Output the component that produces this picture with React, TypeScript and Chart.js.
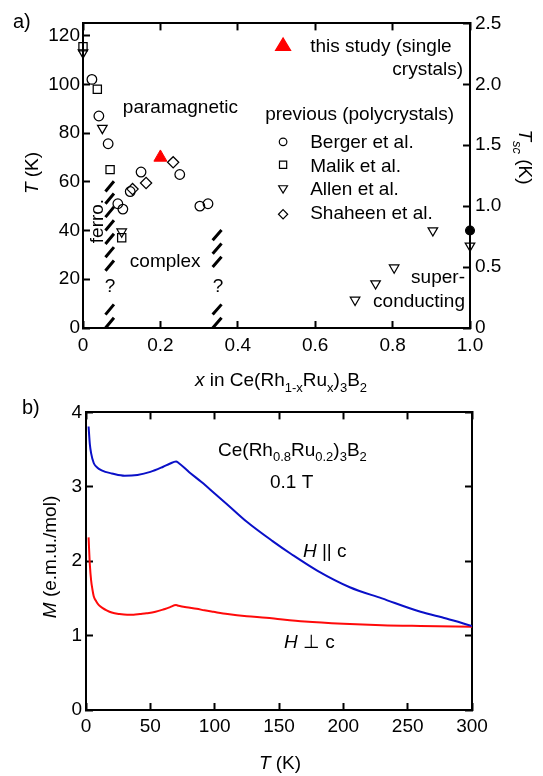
import React, { useEffect, useRef } from "react";
import { Chart, registerables } from "chart.js";

Chart.register(...registerables);

const FONT = "'Liberation Sans', Arial, Helvetica, sans-serif";
const FS = 19;

// ---------------- panel a: phase diagram ----------------
const X_TICKS_A = [0, 0.2, 0.4, 0.6, 0.8, 1.0];
const X_TICK_LABELS_A = ["0", "0.2", "0.4", "0.6", "0.8", "1.0"];
const T_TICKS_A = [0, 20, 40, 60, 80, 100, 120];
const T_TICK_LABELS_A = ["0", "20", "40", "60", "80", "100", "120"];
const TSC_TICKS_A = [0, 0.5, 1.0, 1.5, 2.0, 2.5];
const TSC_TICK_LABELS_A = ["0", "0.5", "1.0", "1.5", "2.0", "2.5"];

const BERGER_X = [0.023, 0.041, 0.065, 0.09, 0.103, 0.122, 0.15, 0.25, 0.302, 0.323];
const BERGER_T = [102, 87, 75.6, 51, 48.8, 56, 64, 63, 50, 51];
const MALIK_X = [0, 0.037, 0.07, 0.1];
const MALIK_T = [115.4, 98, 65, 37];
const ALLEN_X = [0, 0.05, 0.1];
const ALLEN_T = [113, 82, 39.5];
const ALLEN_SC_X = [0.703, 0.756, 0.804, 0.904, 1.0];
const ALLEN_SC_TSC = [0.23, 0.365, 0.495, 0.8, 0.675];
const SHAHEEN_X = [0.128, 0.163, 0.233];
const SHAHEEN_T = [57, 59.5, 68];
const STUDY_X = [0.2];
const STUDY_T = [70];
const SC_END_X = [1.0];
const SC_END_TSC = [0.8];

// hatched (uncertain) phase boundaries: x-extent of each slash and slash base temperatures
const BOUNDARY_L_X = [0.058, 0.08];
const BOUNDARY_L_T = [0, 5.5, 23.5, 29, 34.5, 40, 45.5, 51, 56];
const BOUNDARY_R_X = [0.335, 0.358];
const BOUNDARY_R_T = [0, 5.5, 25, 30.5, 36];
const SLASH_DT = 4.2;

// ---------------- panel b: M(T) ----------------
const X_TICKS_B = [0, 50, 100, 150, 200, 250, 300];
const X_TICK_LABELS_B = ["0", "50", "100", "150", "200", "250", "300"];
const M_TICKS_B = [0, 1, 2, 3, 4];
const M_TICK_LABELS_B = ["0", "1", "2", "3", "4"];

const T_PAR = [2, 3, 4, 6, 8, 10, 15, 20, 30, 40, 50, 60, 65, 70, 72, 80, 90, 100, 110, 125, 145, 160, 180, 205, 230, 260, 280, 300];
const M_PAR = [3.81, 3.57, 3.45, 3.32, 3.27, 3.24, 3.2, 3.18, 3.15, 3.16, 3.2, 3.27, 3.31, 3.34, 3.32, 3.2, 3.06, 2.91, 2.76, 2.53, 2.27, 2.09, 1.87, 1.65, 1.5, 1.32, 1.23, 1.13];

const T_PERP = [2, 3, 4, 5, 6, 8, 10, 13, 16, 20, 26, 32, 37, 42, 47, 54, 60, 65, 70, 72, 78, 86, 92, 99, 110, 125, 140, 151, 170, 200, 230, 260, 300];
const M_PERP = [2.32, 1.95, 1.74, 1.62, 1.53, 1.46, 1.41, 1.37, 1.34, 1.31, 1.29, 1.28, 1.28, 1.29, 1.3, 1.32, 1.35, 1.38, 1.41, 1.4, 1.38, 1.36, 1.34, 1.32, 1.29, 1.26, 1.24, 1.22, 1.19, 1.16, 1.14, 1.13, 1.12];

// ---------------- helpers ----------------
type Run = { t: string; it?: boolean; sub?: boolean };

function runFont(r: Run, size: number) {
  const s = r.sub ? Math.round(size * 0.7) : size;
  return `${r.it ? "italic " : ""}${s}px ${FONT}`;
}

function drawRich(
  ctx: CanvasRenderingContext2D,
  runs: Run[],
  x: number,
  y: number,
  size: number,
  align: "left" | "center" | "right",
  rot = 0,
  color = "#000"
) {
  ctx.save();
  ctx.translate(x, y);
  if (rot) ctx.rotate(rot);
  ctx.textBaseline = "alphabetic";
  ctx.textAlign = "left";
  ctx.fillStyle = color;
  let total = 0;
  const widths = runs.map((r) => {
    ctx.font = runFont(r, size);
    const w = ctx.measureText(r.t).width;
    total += w;
    return w;
  });
  let cx = align === "left" ? 0 : align === "center" ? -total / 2 : -total;
  runs.forEach((r, i) => {
    ctx.font = runFont(r, size);
    ctx.fillText(r.t, cx, r.sub ? size * 0.3 : 0);
    cx += widths[i];
  });
  ctx.restore();
}

function drawMarker(
  ctx: CanvasRenderingContext2D,
  style: string,
  x: number,
  y: number,
  r: number,
  fill?: string
) {
  ctx.save();
  ctx.beginPath();
  ctx.lineWidth = 1.2;
  ctx.strokeStyle = fill || "#000";
  if (style === "circle") {
    ctx.arc(x, y, r, 0, Math.PI * 2);
  } else if (style === "rect") {
    ctx.rect(x - r, y - r, 2 * r, 2 * r);
  } else if (style === "triDown") {
    ctx.moveTo(x - r, y - r * 0.6);
    ctx.lineTo(x + r, y - r * 0.6);
    ctx.lineTo(x, y + r * 1.05);
    ctx.closePath();
  } else if (style === "triUp") {
    ctx.moveTo(x - r, y + r * 0.6);
    ctx.lineTo(x + r, y + r * 0.6);
    ctx.lineTo(x, y - r * 1.05);
    ctx.closePath();
  } else if (style === "diamond") {
    ctx.moveTo(x, y - r);
    ctx.lineTo(x + r, y);
    ctx.lineTo(x, y + r);
    ctx.lineTo(x - r, y);
    ctx.closePath();
  }
  if (fill) {
    ctx.fillStyle = fill;
    ctx.fill();
  }
  ctx.stroke();
  ctx.restore();
}

function mkScale(p: {
  position: "left" | "right" | "top" | "bottom";
  min: number;
  max: number;
  ticks: number[];
  labels?: string[];
  size: number;
  pad?: number;
}) {
  return {
    type: "linear",
    position: p.position,
    min: p.min,
    max: p.max,
    afterBuildTicks: (s: any) => {
      s.ticks = p.ticks.map((v) => ({ value: v }));
    },
    afterFit: (s: any) => {
      if (p.position === "top" || p.position === "bottom") s.height = p.size;
      else s.width = p.size;
    },
    ticks: {
      display: !!p.labels,
      callback: (_v: any, i: number) => (p.labels ? p.labels[i] : ""),
      padding: p.pad ?? 0,
      color: "#000",
      font: { family: FONT, size: FS },
      maxRotation: 0,
      minRotation: 0,
      autoSkip: false,
    },
    grid: {
      display: true,
      drawOnChartArea: false,
      drawTicks: true,
      tickLength: -7,
      tickWidth: 2,
      tickColor: "#000",
    },
    border: { display: true, color: "#000", width: 2 },
  };
}

const pts = (xs: number[], ys: number[]) => xs.map((x, i) => ({ x, y: ys[i] }));

function slashes(xs: number[], bases: number[]) {
  const out: any[] = [];
  bases.forEach((b) => {
    out.push({ x: xs[0], y: b }, { x: xs[1], y: b + SLASH_DT }, { x: xs[1], y: null });
  });
  return out;
}

function marker(label: string, data: any[], style: string, r: number, extra: any = {}) {
  return {
    label,
    data,
    pointStyle: style,
    pointRadius: r,
    pointBorderColor: "#000",
    pointBackgroundColor: "rgba(0,0,0,0)",
    pointBorderWidth: 1.25,
    showLine: false,
    clip: false,
    ...extra,
  };
}

// ---------------- configs ----------------
function configA(): any {
  const annot = {
    id: "annotA",
    afterDraw(chart: any) {
      const ctx: CanvasRenderingContext2D = chart.ctx;
      const X = (v: number) => chart.scales.x.getPixelForValue(v);
      const Y = (v: number) => chart.scales.y.getPixelForValue(v);

      drawRich(ctx, [{ t: "a)" }], 13, 28, 20, "left");
      drawRich(ctx, [{ t: "paramagnetic" }], X(0.103), Y(88.2), FS, "left");
      drawRich(ctx, [{ t: "complex" }], X(0.121), Y(25.2), FS, "left");
      drawRich(ctx, [{ t: "?" }], X(0.07), Y(14.6), FS, "center");
      drawRich(ctx, [{ t: "?" }], X(0.349), Y(14.6), FS, "center");
      drawRich(ctx, [{ t: "ferro." }], X(0.052), Y(43.9), FS, "center", -Math.PI / 2);
      drawRich(ctx, [{ t: "super-" }], X(0.987), Y(18.3), FS, "right");
      drawRich(ctx, [{ t: "conducting" }], X(0.987), Y(8.5), FS, "right");

      // legend
      const mx = X(0.517);
      const tx = X(0.587);
      drawMarker(ctx, "triUp", mx, Y(115.8), 7.5, "#ff0000");
      drawRich(ctx, [{ t: "this study (single" }], tx, Y(113.4), FS, "left");
      drawRich(ctx, [{ t: "crystals)" }], X(0.982), Y(104), FS, "right");
      drawRich(ctx, [{ t: "previous (polycrystals)" }], X(0.959), Y(85.3), FS, "right");
      drawMarker(ctx, "circle", mx, Y(76.4), 3.8);
      drawRich(ctx, [{ t: "Berger et al." }], tx, Y(74), FS, "left");
      drawMarker(ctx, "rect", mx, Y(67), 3.6);
      drawRich(ctx, [{ t: "Malik et al." }], tx, Y(64.2), FS, "left");
      drawMarker(ctx, "triDown", mx, Y(57.3), 4.4);
      drawRich(ctx, [{ t: "Allen et al." }], tx, Y(54.5), FS, "left");
      drawMarker(ctx, "diamond", mx, Y(46.7), 4.6);
      drawRich(ctx, [{ t: "Shaheen et al." }], tx, Y(44.7), FS, "left");

      // axis titles
      drawRich(ctx, [{ t: "T", it: true }, { t: " (K)" }], 38, 173, FS, "center", -Math.PI / 2);
      drawRich(
        ctx,
        [{ t: "T", it: true }, { t: "sc", it: true, sub: true }, { t: " (K)" }],
        519,
        157,
        FS,
        "center",
        Math.PI / 2
      );
      drawRich(
        ctx,
        [
          { t: "x", it: true },
          { t: " in Ce(Rh" },
          { t: "1-x", sub: true },
          { t: "Ru" },
          { t: "x", sub: true },
          { t: ")" },
          { t: "3", sub: true },
          { t: "B" },
          { t: "2", sub: true },
        ],
        281,
        386,
        FS,
        "center"
      );
    },
  };

  return {
    type: "scatter",
    data: {
      datasets: [
        marker("this study (single crystals)", pts(STUDY_X, STUDY_T), "triangle", 7.5, {
          pointBackgroundColor: "#ff0000",
          pointBorderColor: "#ff0000",
          pointBorderWidth: 1,
        }),
        marker("Berger et al.", pts(BERGER_X, BERGER_T), "circle", 4.8),
        marker("Malik et al.", pts(MALIK_X, MALIK_T), "rect", 5.8),
        marker("Allen et al.", pts(ALLEN_X, ALLEN_T), "triangle", 5.5, { pointRotation: 180 }),
        marker("Allen et al. Tsc", pts(ALLEN_SC_X, ALLEN_SC_TSC), "triangle", 5.5, {
          pointRotation: 180,
          yAxisID: "y2",
        }),
        marker("Shaheen et al.", pts(SHAHEEN_X, SHAHEEN_T), "rectRot", 5.6),
        marker("Tsc x=1", pts(SC_END_X, SC_END_TSC), "circle", 4.4, {
          pointBackgroundColor: "#000",
          yAxisID: "y2",
        }),
        {
          label: "boundary left",
          data: slashes(BOUNDARY_L_X, BOUNDARY_L_T),
          showLine: true,
          pointRadius: 0,
          borderColor: "#000",
          borderWidth: 3,
          spanGaps: false,
          clip: false,
        },
        {
          label: "boundary right",
          data: slashes(BOUNDARY_R_X, BOUNDARY_R_T),
          showLine: true,
          pointRadius: 0,
          borderColor: "#000",
          borderWidth: 3,
          spanGaps: false,
          clip: false,
        },
      ],
    },
    options: {
      responsive: false,
      animation: false,
      events: [],
      layout: { padding: 0 },
      plugins: { legend: { display: false }, tooltip: { enabled: false } },
      scales: {
        x: mkScale({ position: "bottom", min: 0, max: 1, ticks: X_TICKS_A, labels: X_TICK_LABELS_A, size: 72, pad: 13.6 }),
        x2: mkScale({ position: "top", min: 0, max: 1, ticks: X_TICKS_A, size: 20.5 }),
        y: mkScale({ position: "left", min: 0, max: 125, ticks: T_TICKS_A, labels: T_TICK_LABELS_A, size: 83, pad: 10 }),
        y2: mkScale({ position: "right", min: 0, max: 2.5, ticks: TSC_TICKS_A, labels: TSC_TICK_LABELS_A, size: 73, pad: 12 }),
      },
    },
    plugins: [annot],
  };
}

function configB(): any {
  const OFF = 390;
  const annot = {
    id: "annotB",
    afterDraw(chart: any) {
      const ctx: CanvasRenderingContext2D = chart.ctx;
      const X = (v: number) => chart.scales.x.getPixelForValue(v);
      const Y = (v: number) => chart.scales.y.getPixelForValue(v);

      drawRich(ctx, [{ t: "b)" }], 22, 414 - OFF, 20, "left");
      drawRich(
        ctx,
        [
          { t: "Ce(Rh" },
          { t: "0.8", sub: true },
          { t: "Ru" },
          { t: "0.2", sub: true },
          { t: ")" },
          { t: "3", sub: true },
          { t: "B" },
          { t: "2", sub: true },
        ],
        X(102.6),
        Y(3.42),
        FS,
        "left"
      );
      drawRich(ctx, [{ t: "0.1 T" }], X(143), Y(2.99), FS, "left");
      drawRich(ctx, [{ t: "H", it: true }, { t: " || c" }], X(168.6), Y(2.06), FS, "left");
      drawRich(ctx, [{ t: "H", it: true }, { t: " ⊥ c" }], X(153.9), Y(0.84), FS, "left");

      drawRich(
        ctx,
        [{ t: "M", it: true }, { t: " (e.m.u./mol)" }],
        56,
        557 - OFF,
        FS,
        "center",
        -Math.PI / 2
      );
      drawRich(ctx, [{ t: "T", it: true }, { t: " (K)" }], 280, 769 - OFF, FS, "center");
    },
  };

  return {
    type: "scatter",
    data: {
      datasets: [
        {
          label: "H || c",
          data: pts(T_PAR, M_PAR),
          showLine: true,
          pointRadius: 0,
          borderColor: "#0a10c8",
          borderWidth: 2,
          cubicInterpolationMode: "monotone",
        },
        {
          label: "H ⊥ c",
          data: pts(T_PERP, M_PERP),
          showLine: true,
          pointRadius: 0,
          borderColor: "#ff0a0a",
          borderWidth: 2,
          cubicInterpolationMode: "monotone",
        },
      ],
    },
    options: {
      responsive: false,
      animation: false,
      events: [],
      layout: { padding: 0 },
      plugins: { legend: { display: false }, tooltip: { enabled: false } },
      scales: {
        x: mkScale({ position: "bottom", min: 0, max: 300, ticks: X_TICKS_B, labels: X_TICK_LABELS_B, size: 66, pad: 12.6 }),
        x2: mkScale({ position: "top", min: 0, max: 300, ticks: X_TICKS_B, size: 12 }),
        y: mkScale({ position: "left", min: 0, max: 4, ticks: M_TICKS_B, labels: M_TICK_LABELS_B, size: 86, pad: 11 }),
        y2: mkScale({ position: "right", min: 0, max: 4, ticks: M_TICKS_B, size: 71 }),
      },
    },
    plugins: [annot],
  };
}

export default function App() {
  const refA = useRef<HTMLCanvasElement>(null);
  const refB = useRef<HTMLCanvasElement>(null);

  useEffect(() => {
    const a = new Chart(refA.current as HTMLCanvasElement, configA());
    const b = new Chart(refB.current as HTMLCanvasElement, configB());
    return () => {
      a.destroy();
      b.destroy();
    };
  }, []);

  return (
    <div style={{ position: "absolute", left: 0, top: 0, width: 543, height: 776, background: "#fff" }}>
      <canvas
        ref={refA}
        width={543}
        height={400}
        style={{ position: "absolute", left: 0, top: 0, width: 543, height: 400, display: "block" }}
      />
      <canvas
        ref={refB}
        width={543}
        height={386}
        style={{ position: "absolute", left: 0, top: 390, width: 543, height: 386, display: "block" }}
      />
    </div>
  );
}
